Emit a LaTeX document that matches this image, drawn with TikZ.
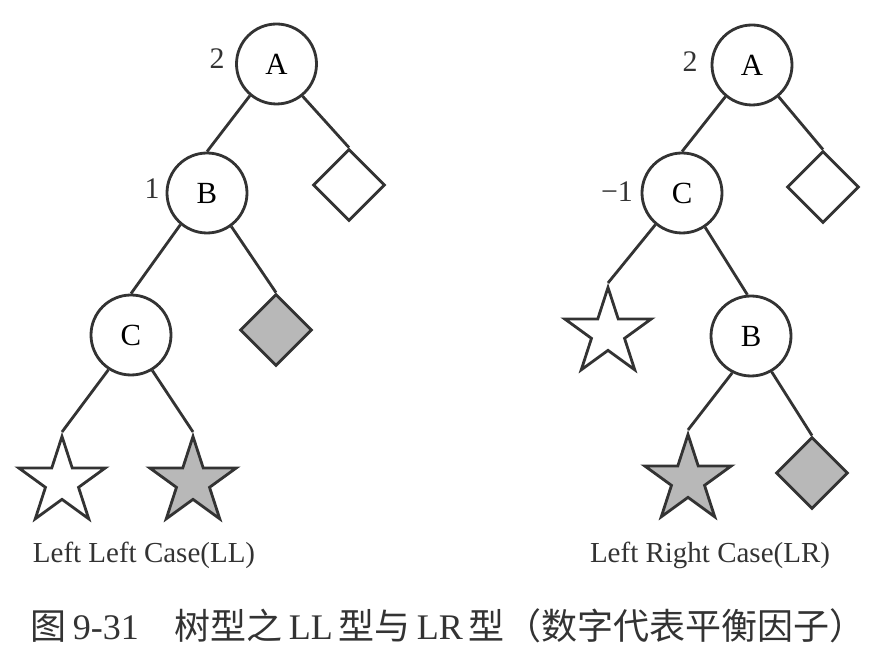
\documentclass[tikz,border=0pt]{standalone}
\usepackage{fontspec}
\setmainfont{Liberation Serif}
\newfontfamily\cjk{Noto Sans CJK SC}
\usetikzlibrary{shapes.geometric}
\colorlet{ink}{black!80}
\tikzset{
    avl/.style = {circle,draw=ink,line width=1.6pt,minimum size=1.6cm,inner sep=0pt,font=\fontsize{17.5}{17.5}\selectfont},
    leaf/.style = {diamond,draw=ink,line width=1.6pt,minimum size=1.44cm,inner sep=0pt},
    subtree/.style = {star,star points=5,star point ratio=2.618,draw=ink,line width=1.6pt,minimum size=1.82cm,inner sep=0pt},
    greyfill/.style = {fill=black!28},
    factor/.style = {text=ink,font=\fontsize{17}{17}\selectfont},
    casename/.style = {text=ink,font=\fontsize{16.5}{16.5}\selectfont},
    edge/.style = {draw=ink,line width=1.6pt}}
\begin{document}
\begin{tikzpicture}
    \useasboundingbox (0,0) rectangle (17.92,13.22);
    % left left case
    \path (5.53,11.94) node[avl] (LLA) {A}
        (4.14,9.36) node[avl] (LLB) {B}
        (2.62,6.52) node[avl] (LLC) {C}
        (6.98,9.52) node[leaf] (LLdA) {}
        (5.52,6.62) node[leaf,greyfill] (LLdB) {}
        (1.24,3.58) node[subtree] (LLsL) {}
        (3.86,3.58) node[subtree,greyfill] (LLsR) {}
        (4.34,12.04) node[factor] (LLfA) {2}
        (3.04,9.44) node[factor] (LLfB) {1}
        (2.88,2.12) node[casename] (LLname) {Left Left Case(LL)};
    \draw[edge] (LLA.230) -- (LLB.north) (LLA.-51) -- (LLdA.north)
        (LLB.230) -- (LLC.north) (LLB.-54) -- (LLdB.north)
        (LLC.237) -- (LLsL.north) (LLC.-59) -- (LLsR.north);
    % left right case
    \path (15.04,11.92) node[avl] (LRA) {A}
        (13.64,9.36) node[avl] (LRC) {C}
        (15.02,6.5) node[avl] (LRB) {B}
        (16.46,9.48) node[leaf] (LRdA) {}
        (12.16,6.56) node[subtree] (LRsL) {}
        (13.76,3.62) node[subtree,greyfill] (LRsR) {}
        (16.24,3.76) node[leaf,greyfill] (LRdB) {}
        (13.8,11.98) node[factor] (LRfA) {2}
        (12.34,9.38) node[factor] (LRfC) {−1}
        (14.2,2.12) node[casename] (LRname) {Left Right Case(LR)};
    \draw[edge] (LRA.230) -- (LRC.north) (LRA.-50) -- (LRdA.north)
        (LRC.230) -- (LRsL.north) (LRC.-56) -- (LRB.95)
        (LRB.243) -- (LRsR.north) (LRB.-60) -- (LRdB.north);
    % caption
    \node[text=ink,font=\fontsize{20.5}{20.5}\selectfont] (title) at (8.96,0.7)
        {{\cjk 图}\,9-31\quad{\cjk 树型之}\,LL\,{\cjk 型与}\,LR\,{\cjk 型（数字代表平衡因子）}};
\end{tikzpicture}
\end{document}
